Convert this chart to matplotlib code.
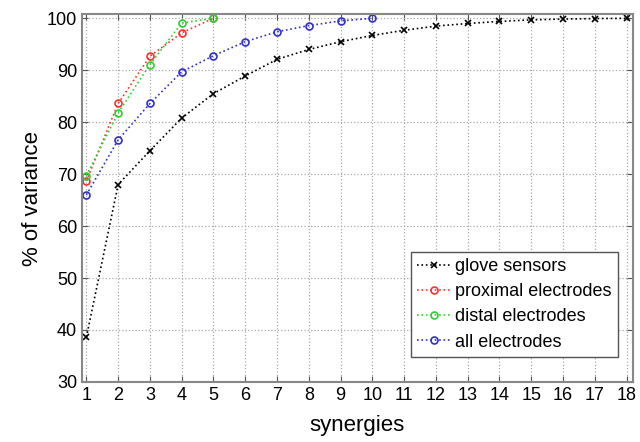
import numpy as np
import matplotlib.pyplot as plt

plt.rcParams['font.family'] = ['Liberation Sans', 'DejaVu Sans']

synergies = np.arange(1, 19)
glove = [38.6, 68.0, 74.5, 80.8, 85.5, 88.9, 92.1, 94.0, 95.5, 96.7, 97.7, 98.5, 99.0, 99.4, 99.7, 99.85, 99.95, 100.0]
proximal = [68.7, 83.6, 92.7, 97.2, 100.0]
distal = [69.7, 81.8, 91.1, 99.1, 100.0]
all_el = [66.0, 76.6, 83.6, 89.7, 92.8, 95.5, 97.4, 98.6, 99.5, 100.0]

fig = plt.figure(figsize=(6.4, 4.42), dpi=100)
ax = fig.add_axes([0.128, 0.136, 0.861, 0.832])

ax.plot(synergies, glove, ':', color='k', marker='x', ms=5, mew=1.2, lw=1.2, label='glove sensors')
ax.plot(synergies[:5], proximal, ':', color='#ff3030', marker='o', ms=5, mfc='none', mew=1.2, lw=1.2, label='proximal electrodes')
ax.plot(synergies[:5], distal, ':', color='#30d030', marker='o', ms=5, mfc='none', mew=1.2, lw=1.2, label='distal electrodes')
ax.plot(synergies[:10], all_el, ':', color='#3030d0', marker='o', ms=5, mfc='none', mew=1.2, lw=1.2, label='all electrodes')

ax.set_xlim(0.86, 18.2)
ax.set_ylim(30, 100.8)
ax.set_xticks(synergies)
ax.set_yticks(np.arange(30, 101, 10))
ax.grid(True, linestyle=':', color='#aaaaaa', lw=0.9)
ax.tick_params(direction='in', top=True, right=True, labelsize=13, length=4, color='#555555')
for s in ax.spines.values():
    s.set_color('#888888')
    s.set_linewidth(1.5)

ax.set_xlabel('synergies', fontsize=16, labelpad=8)
ax.set_ylabel('% of variance', fontsize=16, labelpad=3)

leg = ax.legend(loc='lower right', bbox_to_anchor=(0.973, 0.068), borderaxespad=0, fontsize=13,
                fancybox=False, framealpha=1, edgecolor='#555555',
                handlelength=1.8, handletextpad=0.3, borderpad=0.35, labelspacing=0.45)
leg.get_frame().set_linewidth(1.0)

fig.savefig('out.png', dpi=100)
